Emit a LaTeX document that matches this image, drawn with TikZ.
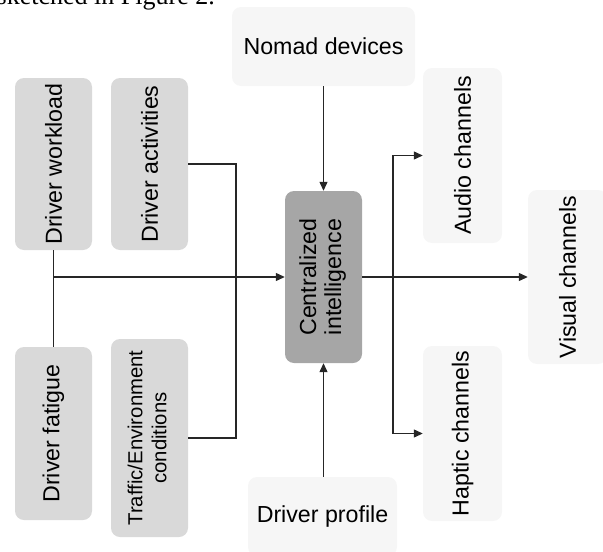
\documentclass[tikz,border=0pt]{standalone}
\usepackage{fontspec}
\setmainfont{Liberation Sans}
\newfontfamily\capfont{Liberation Serif}
\usetikzlibrary{arrows.meta}

\definecolor{inbox}{HTML}{D9D9D9}
\definecolor{corebox}{HTML}{A6A6A6}
\definecolor{outbox}{HTML}{F6F6F6}

\tikzset{
  card/.style={rectangle, rounded corners=9pt, inner sep=0pt, align=center,
               font=\fontsize{23.2}{25}\selectfont},
  inputcard/.style={card, fill=inbox, minimum width=77pt, minimum height=172pt},
  corecard/.style={card, fill=corebox, minimum width=77pt, minimum height=172pt},
  outcard/.style={card, fill=outbox, minimum width=79pt, minimum height=175pt},
  sourcecard/.style={card, fill=outbox, minimum height=79pt},
  wire/.style={line width=1.2pt, draw=black!85},
  feed/.style={wire, -{Triangle[length=9pt,width=8pt]}}
}

\newcommand{\up}[1]{\rotatebox{90}{#1}}

\begin{document}
\begin{tikzpicture}[x=1pt,y=-1pt]
  \useasboundingbox (0,0) rectangle (603,552);
  \clip (0,0) rectangle (603,552);

  % caption line of the page above the figure
  \node[anchor=base east, inner sep=0pt, font=\capfont\fontsize{26}{30}\selectfont]
    (captionline) at (215,4) {sketched in Figure 2.};

  % inputs on the left
  \node[inputcard] (workload) at (53.5,164) {\up{Driver workload}};
  \node[inputcard] (activities) at (149.5,164) {\up{Driver activities}};
  \node[inputcard, minimum height=173pt] (fatigue) at (53.5,433.5) {\up{Driver fatigue}};
  \node[inputcard, minimum height=198pt] (traffic) at (149.5,438)
    {\up{\fontsize{20.3}{24}\selectfont\begin{tabular}{@{}c@{}}Traffic/Environment\\conditions\end{tabular}}};

  % central unit and its top/bottom sources
  \node[corecard] (core) at (323.5,277)
    {\up{\begin{tabular}{@{}c@{}}Centralized\\intelligence\end{tabular}}};
  \node[sourcecard, minimum width=183pt] (nomad) at (323.5,46.5) {Nomad devices};
  \node[sourcecard, minimum width=149pt] (profile) at (322.5,516.5) {Driver profile};

  % output channels
  \node[outcard] (audio) at (462.5,155.5) {\up{Audio channels}};
  \node[outcard, minimum height=174pt] (visual) at (567.5,277) {\up{Visual channels}};
  \node[outcard] (haptic) at (462.5,433.5) {\up{Haptic channels}};

  % junction points
  \coordinate (leftbus) at (workload.south |- core.west);
  \coordinate (midbus) at (236,277);
  \coordinate (fork) at (393,277);

  % left side wiring
  \draw[wire] (workload.south) -- (fatigue.north);
  \draw[feed] (leftbus) -- (core.west);
  \draw[wire] (activities.east) -| (midbus) |- (traffic.east);

  % sources into the core
  \draw[feed] (nomad.south -| core.north) -- (core.north);
  \draw[feed] (profile.north -| core.south) -- (core.south);

  % core to channels
  \draw[feed] (core.east) -- (visual.west);
  \draw[feed] (fork) |- (audio.west);
  \draw[feed] (fork) |- (haptic.west);
\end{tikzpicture}
\end{document}
